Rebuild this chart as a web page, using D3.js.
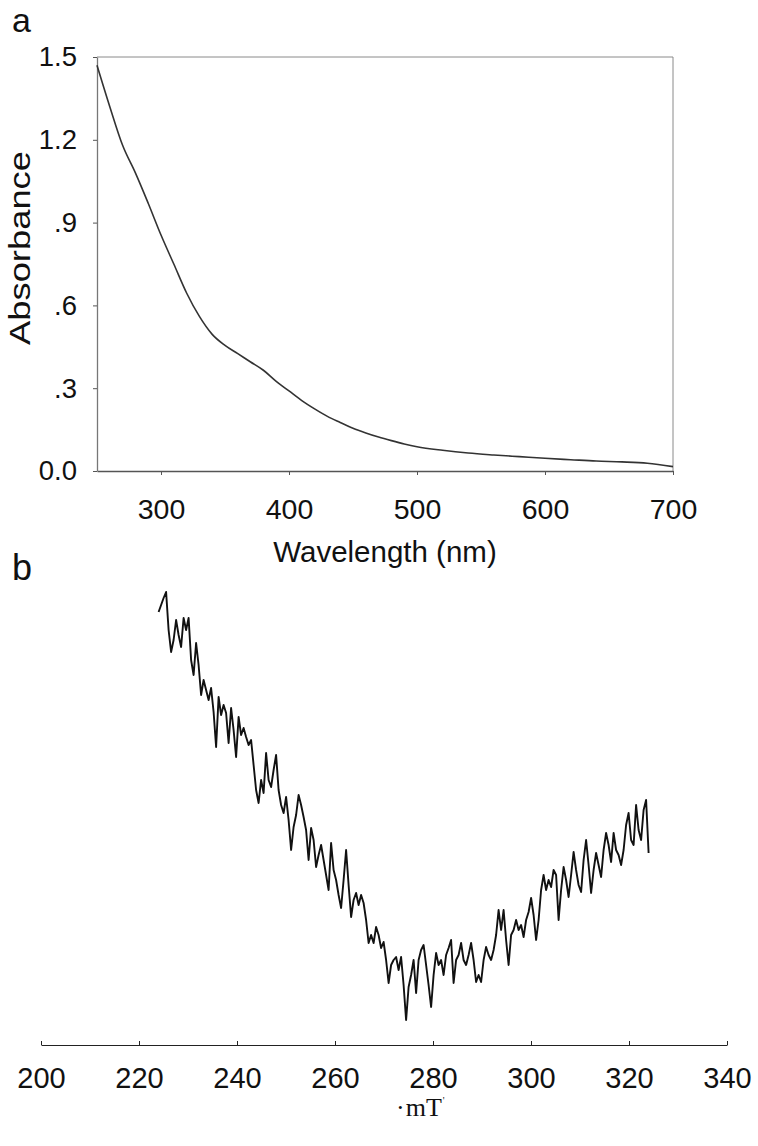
<!DOCTYPE html>
<html>
<head>
<meta charset="utf-8">
<script src="https://cdn.jsdelivr.net/npm/d3@7"></script>
<style>
  html, body { margin: 0; padding: 0; background: #fff; }
  svg { display: block; }
  text { fill: #111; }
</style>
</head>
<body>
<svg id="chart" width="758" height="1146"></svg>
<script>
// ---------- Panel a: UV-vis absorbance ----------
const wavelength = [250,260,270,280,290,300,310,320,330,340,350,360,370,380,390,400,410,420,430,440,450,460,470,480,490,500,520,540,560,580,600,620,640,660,680,700];
const absorbance = [1.47,1.32,1.18,1.08,0.97,0.855,0.75,0.645,0.56,0.495,0.455,0.425,0.395,0.365,0.325,0.29,0.255,0.225,0.198,0.176,0.155,0.138,0.123,0.11,0.098,0.088,0.075,0.065,0.058,0.052,0.046,0.041,0.036,0.033,0.028,0.016];
const wavelengthTicks = [300,400,500,600,700];
const absorbanceTicks = [0,0.3,0.6,0.9,1.2,1.5];
const absorbanceTickLabels = ["0.0",".3",".6",".9","1.2","1.5"];

// ---------- Panel b: EPR spectrum ----------
const fieldStart = 224, fieldEnd = 324; // mT, sweep of the recorded trace
const eprSignal = [86.6,88,89.4,90.6,83,78.6,81,85,82,79.6,85.4,83,85.4,77,74,80.4,76,70,73,71,
69,71.4,66.6,59.6,69.6,66,68,66.4,60.4,67.4,63,57.6,65.6,62,63.4,61.6,60,61,56,51,
48.4,53,50.4,58.4,53,51.6,55,58,51,48,46.4,49.6,45,39,43.6,46,50,48,45.6,43,
37,43.4,41,35.6,38,40,37,34,31,40.4,35,33,30,27.4,33,39,32,25.6,29,30.4,
28,30,28.4,25,20.4,22,20.4,23.6,22,19.4,20.6,17,12.4,16,17,17.6,15,17.6,12,5,
11.6,14,17,10.4,17,19,20,16,12,7.6,14,18.4,16,17,14,18,19.4,21,12.4,17,
18,20.4,17,16,18,20.4,17,12.6,14,12.6,17,19.6,18,17,19,22,27,23,27,21,
16,22,23,25,23,24,21.6,25,26.6,29.4,26,21,25,31,34,31,33,31.6,35,34,
25,31,35.6,33,29.6,34,38.6,35,32,30.6,37,41,36,30.4,35,38.4,36,33.6,39,42.4,
40,36.6,42.4,39,38,36,39,44,46.4,41,40,48,43,41,47,49,38.4];
const fieldTicks = [200,220,240,260,280,300,320,340];

const SANS = "'Liberation Sans', Arial, Helvetica, sans-serif";
const SERIF = "'Liberation Serif', 'Times New Roman', serif";

const svg = d3.select("#chart");

// ===== Panel a =====
const xA = d3.scaleLinear().domain([250, 700]).range([97, 673]);
const yA = d3.scaleLinear().domain([0, 1.5]).range([471, 57]);
const gA = svg.append("g");

// frame top / right
gA.append("line").attr("x1", xA(250)).attr("x2", xA(700)).attr("y1", yA(1.5)).attr("y2", yA(1.5))
  .attr("stroke", "#8a8a8a").attr("stroke-width", 1);
gA.append("line").attr("x1", xA(700)).attr("x2", xA(700)).attr("y1", yA(1.5)).attr("y2", yA(0))
  .attr("stroke", "#8a8a8a").attr("stroke-width", 1);

const axA_x = gA.append("g").attr("transform", `translate(0,${yA(0)})`)
  .call(d3.axisBottom(xA).tickValues(wavelengthTicks).tickSizeInner(4).tickSizeOuter(0).tickPadding(24));
axA_x.select(".domain").attr("stroke", "#555").attr("stroke-width", 1.3);
axA_x.selectAll(".tick line").attr("stroke", "#555");
axA_x.selectAll(".tick text").style("font-size", "28.5px").style("font-family", SANS).attr("fill", "#111");

const axA_y = gA.append("g").attr("transform", `translate(${xA(250)},0)`)
  .call(d3.axisLeft(yA).tickValues(absorbanceTicks).tickFormat((d, i) => absorbanceTickLabels[i])
    .tickSizeInner(4).tickSizeOuter(0).tickPadding(16));
axA_y.select(".domain").attr("stroke", "#777").attr("stroke-width", 1.3);
axA_y.selectAll(".tick line").attr("stroke", "#555");
axA_y.selectAll(".tick text").style("font-size", "27.5px").style("font-family", SANS).attr("fill", "#111");

const lineA = d3.line().x((d, i) => xA(wavelength[i])).y(d => yA(d)).curve(d3.curveMonotoneX);
gA.append("path").datum(absorbance).attr("d", lineA)
  .attr("fill", "none").attr("stroke", "#333").attr("stroke-width", 1.6);

gA.append("text").attr("x", 385).attr("y", 562).attr("text-anchor", "middle")
  .style("font-family", SANS).style("font-size", "29.5px").text("Wavelength (nm)");
gA.append("text").attr("transform", "translate(30,248) rotate(-90)").attr("text-anchor", "middle")
  .attr("textLength", 194).attr("lengthAdjust", "spacingAndGlyphs")
  .style("font-family", SANS).style("font-size", "29px").text("Absorbance");
svg.append("text").attr("x", 12).attr("y", 32).style("font-family", SANS).style("font-size", "34px").text("a");

// ===== Panel b =====
svg.append("text").attr("x", 12).attr("y", 580).style("font-family", SANS).style("font-size", "36px").text("b");
const xB = d3.scaleLinear().domain([200, 340]).range([41, 727]);
const yB = d3.scaleLinear().domain([0, 100]).range([1045, 545]);
const nPts = eprSignal.length;
const fieldAt = i => fieldStart + (fieldEnd - fieldStart) * i / (nPts - 1);

const axB = svg.append("g").attr("transform", `translate(0,${yB(0)})`)
  .call(d3.axisBottom(xB).tickValues(fieldTicks).tickSizeInner(-4).tickSizeOuter(0).tickPadding(22));
axB.select(".domain").attr("stroke", "#222").attr("stroke-width", 1.2);
axB.selectAll(".tick line").attr("stroke", "#222");
axB.selectAll(".tick text").style("font-size", "29px").style("font-family", SANS).attr("fill", "#111");

const lineB = d3.line().x((d, i) => xB(fieldAt(i))).y(d => yB(d));
svg.append("path").datum(eprSignal).attr("d", lineB)
  .attr("fill", "none").attr("stroke", "#111").attr("stroke-width", 1.9).attr("stroke-linejoin", "round");

// unit label
const unit = svg.append("text").attr("x", 396).attr("y", 1116)
  .style("font-family", SERIF).style("font-size", "26px");
unit.append("tspan").text("·");
unit.append("tspan").attr("dx", 1).text("mT");
unit.append("tspan").attr("dx", 1).attr("dy", -12).style("font-size", "10px").text("'");
</script>
</body>
</html>
